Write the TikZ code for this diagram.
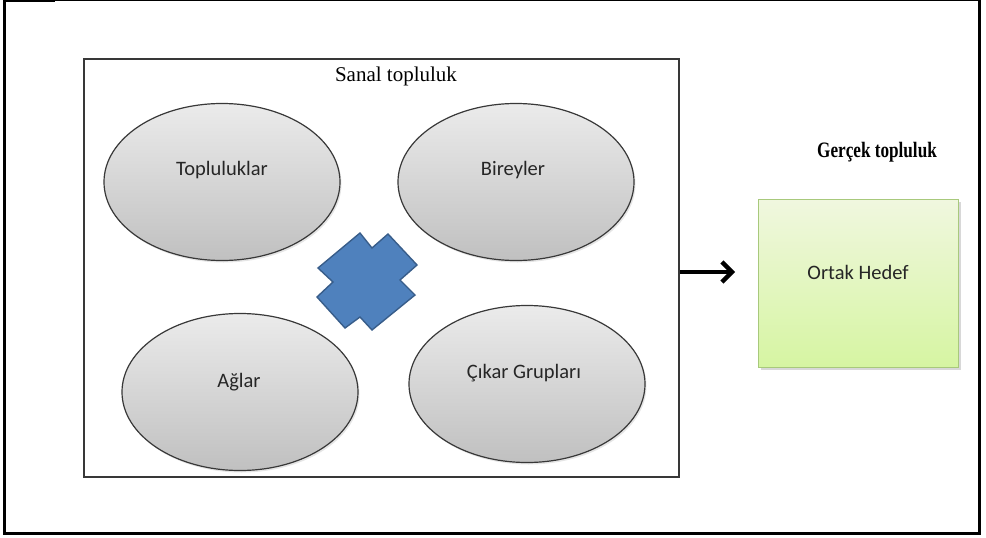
\documentclass[tikz,border=0pt]{standalone}
\usepackage{fontspec}
\setmainfont{Liberation Serif}
\newfontfamily\calibrilike{Carlito}
\usetikzlibrary{arrows.meta,shadows,calc,shapes.geometric}

\definecolor{bubbleedge}{HTML}{383838}
\definecolor{bubbletop}{HTML}{EBEBEB}
\definecolor{bubblebot}{HTML}{C0C0C0}
\definecolor{crossfill}{HTML}{4F81BD}
\definecolor{crossedge}{HTML}{385D8A}
\definecolor{goaledge}{HTML}{A8C97C}
\definecolor{goaltop}{HTML}{F0F7DF}
\definecolor{goalbot}{HTML}{D6F5A2}
\definecolor{labelink}{HTML}{262626}

\tikzset{
  bubble/.style={ellipse, draw=bubbleedge, line width=1.2pt,
    top color=bubbletop, bottom color=bubblebot,
    minimum width=236pt, minimum height=157pt, inner sep=0pt,
    drop shadow={opacity=0.2, shadow xshift=1.5pt, shadow yshift=-2pt}},
  bubbletext/.style={font=\calibrilike\fontsize{20.5}{24}\selectfont, text=labelink, inner sep=0pt},
  goalbox/.style={rectangle, draw=goaledge, line width=1pt,
    top color=goaltop, bottom color=goalbot,
    minimum width=200pt, minimum height=168pt, inner sep=0pt,
    drop shadow={opacity=0.3, shadow xshift=2pt, shadow yshift=-2.5pt}},
  framebox/.style={rectangle, draw=black!78, line width=1.5pt,
    minimum width=595pt, minimum height=418pt, inner sep=0pt},
  titletext/.style={font=\fontsize{21}{24}\selectfont, inner sep=0pt},
  bigarrow/.style={line width=4.4pt, -{Straight Barb[length=10pt,width=20pt]}},
}

\begin{document}
\begin{tikzpicture}[x=1pt,y=-1pt]
  \useasboundingbox (0,0) rectangle (986,538);
  \fill[white] (0,0) rectangle (986,538);

  % outer page frame
  \draw[line width=1.4pt] (4.5,0.8) -- (979,0.8);
  \draw[line width=2.6pt] (4.5,1) -- (55,1);
  \draw[line width=3pt] (4.5,0) -- (4.5,533.5) -- (979.2,533.5) -- (979.2,0);

  % virtual community panel
  \node[framebox] (panel) at (381.5,268) {};
  \node[titletext] (paneltitle) at (396,76) {Sanal topluluk};

  % four groups
  \node[bubble] (groups) at (222,182) {};
  \node[bubble] (people) at (516,182) {};
  \node[bubble] (networks) at (240,392) {};
  \node[bubble] (interest) at (527,384) {};
  \node[bubbletext] (groupslbl) at (222,170) {Topluluklar};
  \node[bubbletext] (peoplelbl) at (513,170) {Bireyler};
  \node[bubbletext] (networkslbl) at (239,382) {Ağlar};
  \node[bubbletext] (interestlbl) at (524,373) {Çıkar Grupları};

  % linking cross in the middle
  \filldraw[fill=crossfill, draw=crossedge, line width=1.4pt, line join=miter]
    (360,233) -- (372,248) -- (388,234) -- (417,265) -- (400,280) -- (415,295)
    -- (372,330) -- (360,317) -- (345,328) -- (317,297) -- (333,282) -- (318,268) -- cycle;

  % real community
  \node[font=\bfseries\fontsize{22}{26}\selectfont, inner sep=0pt] (realtitle) at (877,152)
    {\scalebox{0.78}[1]{Gerçek topluluk}};
  \node[goalbox] (goal) at (858.5,283) {};
  \node[bubbletext] (goallbl) at (858,272) {Ortak Hedef};

  % arrow from the panel towards the goal
  \coordinate (arrowend) at (735,272);
  \draw[bigarrow] (panel.east |- arrowend) -- (arrowend);
\end{tikzpicture}
\end{document}
